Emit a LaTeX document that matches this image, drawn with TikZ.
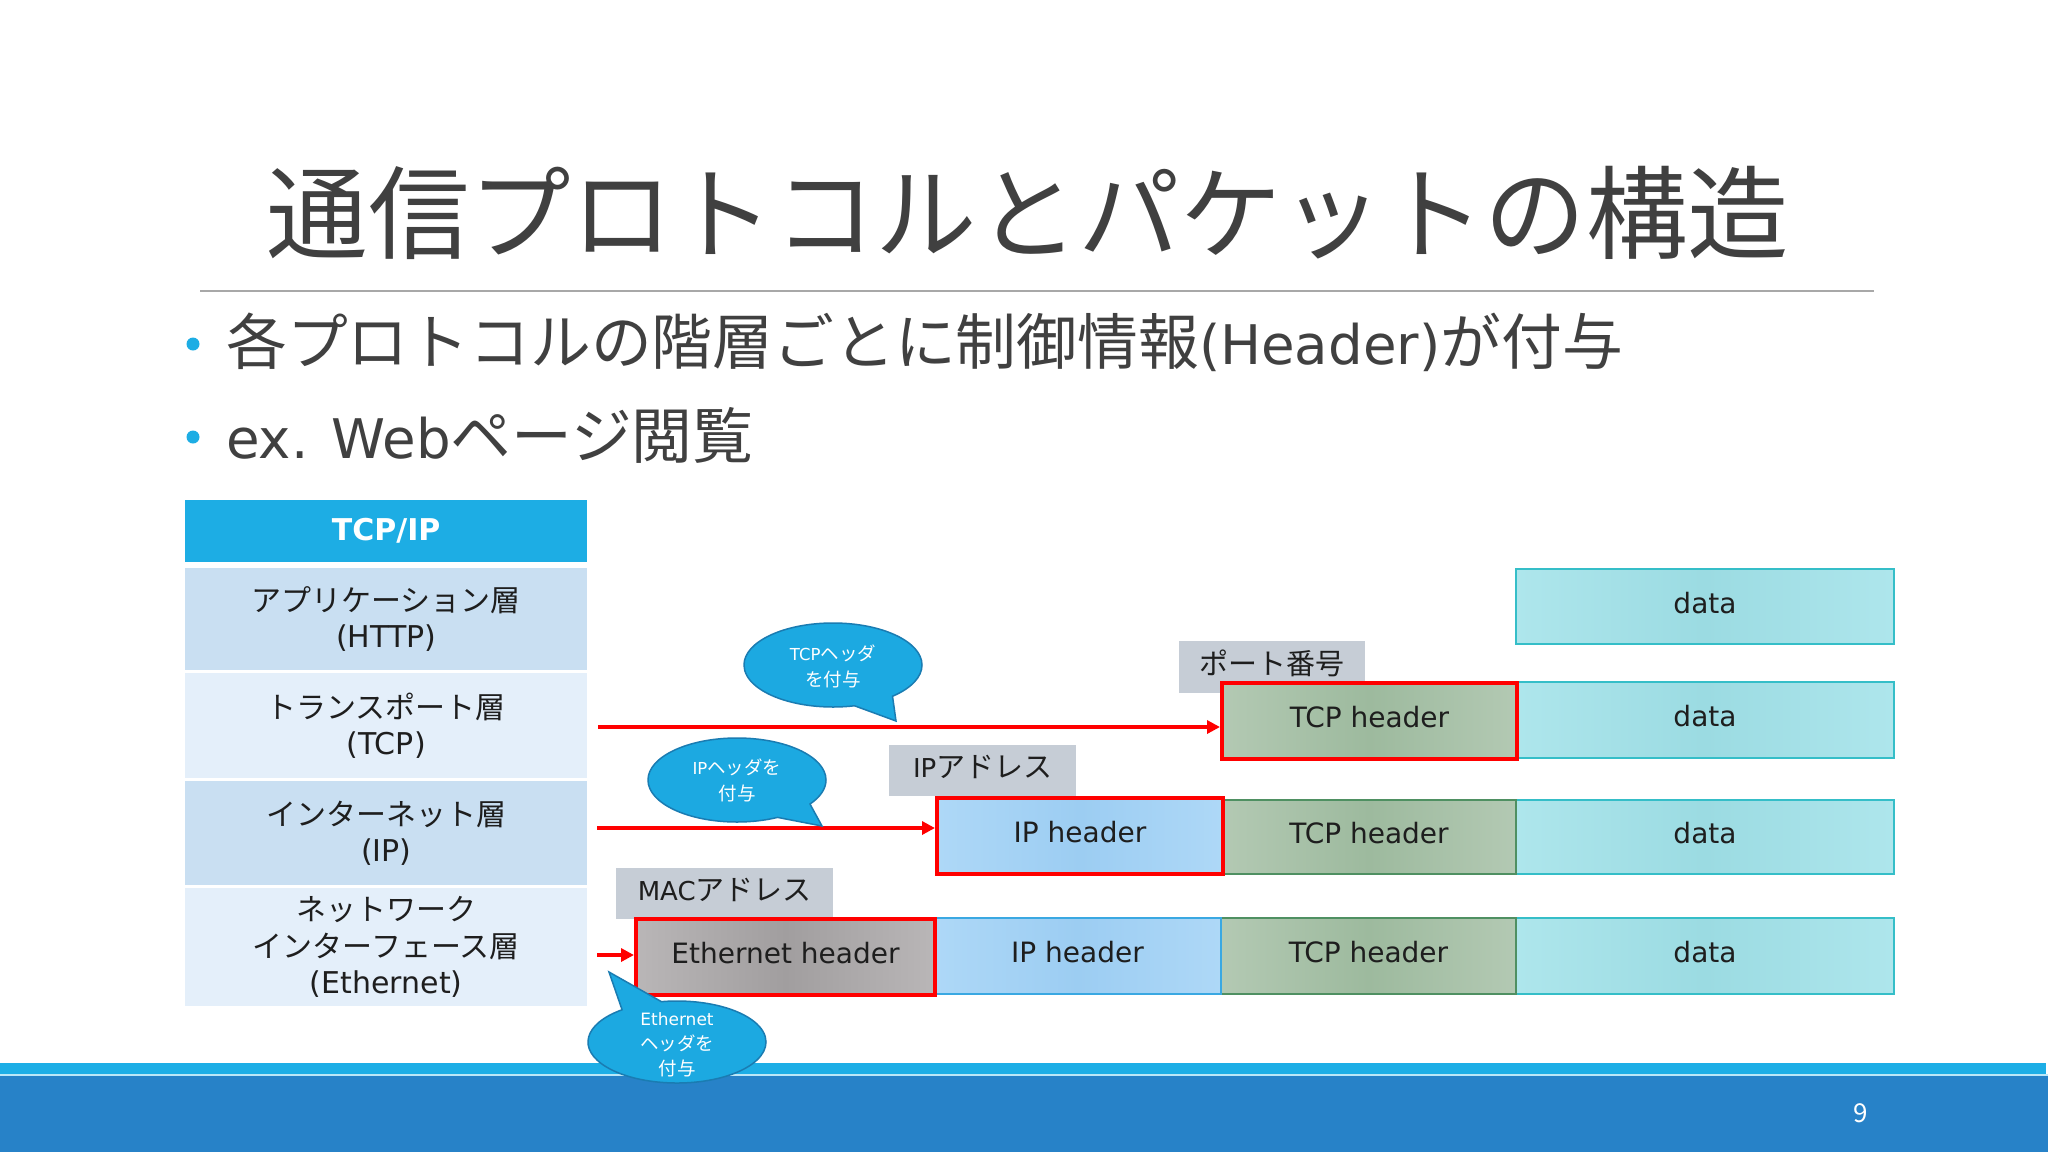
\documentclass[tikz,border=0pt]{standalone}
\usepackage{fontspec}
\setmainfont{Noto Sans CJK JP}
\newfontfamily\jp{Noto Sans CJK JP}
\newfontfamily\dv{DejaVu Sans}
\usetikzlibrary{shapes.callouts,arrows.meta}
\definecolor{ttl}{HTML}{404040}
\definecolor{txt}{HTML}{1E1E1E}
\definecolor{cyanH}{HTML}{1DADE4}
\definecolor{rowD}{HTML}{C9DFF2}
\definecolor{rowL}{HTML}{E4EFFA}
\definecolor{dataL}{HTML}{AEE6EC}
\definecolor{dataM}{HTML}{9BDBE2}
\definecolor{dataB}{HTML}{35BEC8}
\definecolor{tcpL}{HTML}{B3C9B3}
\definecolor{tcpM}{HTML}{9DBA9E}
\definecolor{tcpB}{HTML}{4F9062}
\definecolor{ipL}{HTML}{AED8F7}
\definecolor{ipM}{HTML}{9CCDF2}
\definecolor{ipB}{HTML}{3AA8E2}
\definecolor{ethL}{HTML}{B9B6B7}
\definecolor{ethM}{HTML}{A19E9F}
\definecolor{labF}{HTML}{C6CDD6}
\definecolor{bubF}{HTML}{1CA9E1}
\definecolor{bubB}{HTML}{1A7CB2}
\definecolor{barL}{HTML}{1DAEE6}
\definecolor{barD}{HTML}{2782C8}
\definecolor{redC}{HTML}{FF0000}
\definecolor{rule}{HTML}{A8A8A8}
\begin{document}
\begin{tikzpicture}[x=1pt,y=-1pt,
  row/.style={rectangle,inner sep=0,anchor=north west,minimum width=402pt,align=center,
    font=\jp\fontsize{30}{36.5}\selectfont,text=txt},
  box/.style={rectangle,inner sep=0,anchor=north west,font=\dv\fontsize{28}{34}\selectfont,text=txt,
    text height=21pt,text depth=8pt},
  datab/.style={box,draw=dataB,line width=2pt,left color=dataL,right color=dataL,middle color=dataM},
  tcpb/.style={box,left color=tcpL,right color=tcpL,middle color=tcpM},
  ipb/.style={box,left color=ipL,right color=ipL,middle color=ipM},
  ethb/.style={box,left color=ethL,right color=ethL,middle color=ethM},
  redbox/.style={draw=redC,line width=4pt},
  lab/.style={rectangle,fill=labF,inner sep=0,anchor=north west,font=\jp\fontsize{29}{34}\selectfont,text=txt,
    text height=25.5pt,text depth=11.5pt},
  bub/.style={ellipse callout,fill=bubF,draw=bubB,line width=1.5pt,minimum width=178pt,
    minimum height=84pt,inner sep=0,callout pointer arc=28},
  bubtext/.style={align=center,text=white,font=\jp\fontsize{18.5}{26}\selectfont,inner sep=0},
  redarrow/.style={draw=redC,line width=4pt,-{Triangle[length=13pt,width=13pt]}},
  dot/.style={circle,fill=cyanH,inner sep=0,minimum size=13pt}
]
\useasboundingbox (0,0) rectangle (2048,1152);
\fill[white] (0,0) rectangle (2048,1152);
% bottom bar
\fill[barL] (0,1063) rectangle (2046,1074);
\fill[white!70!barL] (0,1074) rectangle (2048,1076);
\fill[barD] (0,1076) rectangle (2048,1152);
\node[text=white,font=\jp\fontsize{26}{30}\selectfont] (pg) at (1861,1113) {9};

% title
\node[text=ttl,font=\jp\fontsize{101.5}{115}\selectfont,inner sep=0] (title) at (1028,213) {通信プロトコルとパケットの構造};
\draw[rule,line width=2pt] (200,291) -- (1874,291);

% bullets
\node[dot] (d1) at (193,344) {};
\node[anchor=west,inner sep=0,text=ttl,font=\jp\fontsize{60.8}{70}\selectfont] (b1text) at (226,342)
  {各プロトコルの階層ごとに制御情報{\dv\fontsize{54.6}{70}\selectfont(Header)}が付与};
\node[dot] (d2) at (193,437) {};
\node[anchor=west,inner sep=0,text=ttl,font=\jp\fontsize{60.8}{70}\selectfont] (b2text) at (226,435)
  {{\dv\fontsize{54.6}{70}\selectfont ex. Web}ページ閲覧};

% table
\node[row,fill=cyanH,minimum height=62pt,text=white,font=\dv\bfseries\fontsize{30}{36}\selectfont] (hdr) at (185,500) {TCP/IP};
\node[row,fill=rowD,minimum height=102pt] (r1) at (185,568) {アプリケーション層\\{\dv (HTTP)}};
\node[row,fill=rowL,minimum height=105pt] (r2) at (185,673) {トランスポート層\\{\dv (TCP)}};
\node[row,fill=rowD,minimum height=104pt] (r3) at (185,781) {インターネット層\\{\dv (IP)}};
\node[row,fill=rowL,minimum height=118pt] (r4) at (185,888) {ネットワーク\\インターフェース層\\{\dv (Ethernet)}};

% labels
\node[lab,minimum width=186pt,minimum height=52pt] (port) at (1179,641) {ポート番号};
\node[lab,minimum width=187pt,minimum height=51pt] (ipaddr) at (889,745) {{\dv\fontsize{26}{34}\selectfont IP}アドレス};
\node[lab,minimum width=217pt,minimum height=51pt] (mac) at (616,868) {{\dv\fontsize{26}{34}\selectfont MAC}アドレス};

% packets
\node[datab,minimum width=378pt,minimum height=75pt] (data1) at (1515,568) {data};

\node[datab,minimum width=378pt,minimum height=76pt] (data2) at (1515,681) {data};
\node[tcpb,redbox,minimum width=295pt,minimum height=76pt] (tcp2) at (1220,681) {TCP header};

\node[datab,minimum width=378pt,minimum height=74pt] (data3) at (1515,799) {data};
\node[tcpb,draw=tcpB,line width=2pt,minimum width=294pt,minimum height=74pt] (tcp3) at (1221,799) {TCP header};
\node[ipb,redbox,minimum width=286pt,minimum height=76pt] (ip3) at (935,796) {IP header};

\node[datab,minimum width=378pt,minimum height=76pt] (data4) at (1515,917) {data};
\node[tcpb,draw=tcpB,line width=2pt,minimum width=295pt,minimum height=76pt] (tcp4) at (1220,917) {TCP header};
\node[ipb,draw=ipB,line width=2pt,minimum width=287pt,minimum height=76pt] (ip4) at (933,917) {IP header};
\node[ethb,redbox,minimum width=299pt,minimum height=76pt] (eth4) at (634,917) {Ethernet header};

% arrows
\coordinate (a1) at (598,727);
\coordinate (a2) at (597,828);
\coordinate (a3) at (597,955);
\draw[redarrow] (a1) -- (a1 -| tcp2.west);
\draw[redarrow] (a2) -- (a2 -| ip3.west);
\draw[redarrow] (a3) -- (a3 -| eth4.west);

% callouts
\coordinate (t1) at (896,721);
\coordinate (t2) at (822,826);
\coordinate (t3) at (609,972);
\node[bub,callout absolute pointer={(t1)}] (c1) at (833,665) {};
\node[bubtext] (c1t) at (833,666) {{\dv\fontsize{16.5}{26}\selectfont TCP}ヘッダ\\を付与};
\node[bub,callout absolute pointer={(t2)}] (c2) at (737,780) {};
\node[bubtext] (c2t) at (737,780) {{\dv\fontsize{16.5}{26}\selectfont IP}ヘッダを\\付与};
\node[bub,minimum height=82pt,callout absolute pointer={(t3)}] (c3) at (677,1042) {};
\node[bubtext,font=\jp\fontsize{18.5}{25}\selectfont] (c3t) at (677,1045) {{\dv\fontsize{17}{25}\selectfont Ethernet}\\ヘッダを\\付与};
\end{tikzpicture}
\end{document}
